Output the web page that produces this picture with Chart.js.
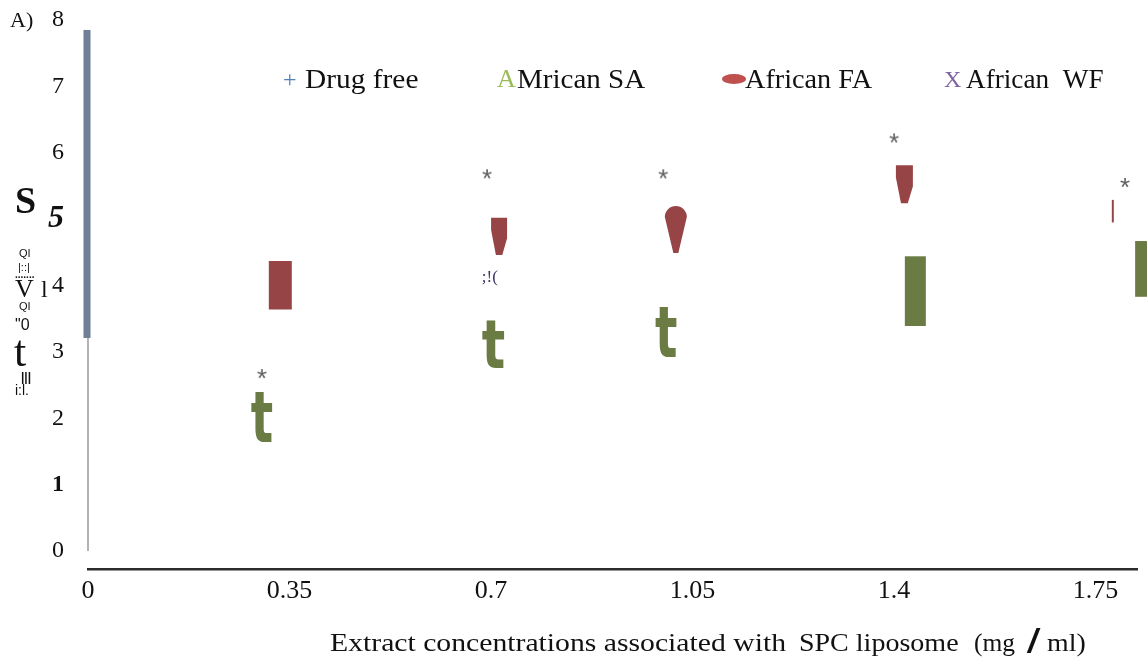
<!DOCTYPE html>
<html><head><meta charset="utf-8">
<script src="https://cdn.jsdelivr.net/npm/chart.js@4/dist/chart.umd.min.js"></script>
<style>html,body{margin:0;padding:0;background:#fff}#wrap{width:1147px;height:665px;position:relative}</style>
</head><body><div id="wrap"><canvas id="c" width="1147" height="665"></canvas></div>
<script>
// ---- data ----
const xTickValues = [0, 0.35, 0.7, 1.05, 1.4, 1.75];
const xTickLabels = ['0', '0.35', '0.7', '1.05', '1.4', '1.75'];
const yTickValues = [0, 1, 2, 3, 4, 5, 6, 7, 8];
const yTickLabels = ['0', '1', '2', '3', '4', '5', '6', '7', '8'];
const seriesNames = ['Drug free', 'Mrican SA', 'African FA', 'African  WF'];
// African FA (red marks): x position, low and high value
const faX = [0.334, 0.714, 1.021, 1.418, 1.780];
const faLow = [3.64, 4.46, 4.49, 5.24, 4.95];
const faHigh = [4.37, 5.02, 5.18, 5.81, 5.29];
// African SA (green marks)
const saX = [0.302, 0.704, 1.004, 1.437, 1.837];
const saLow = [1.64, 2.76, 2.92, 3.39, 3.83];
const saHigh = [2.39, 3.48, 3.67, 4.44, 4.67];
// significance asterisks
const sigX = [0.302, 0.693, 0.999, 1.400, 1.801];
const sigY = [2.68, 5.69, 5.69, 6.23, 5.56];
// African WF label
const wfX = [0.698];
const wfY = [4.14];

// ---- styles ----
const RED = '#974446', GREEN = '#6B7B44', STAR = '#5c5c5c';
const SERIF = '"Liberation Serif","Times New Roman",serif';
const SANS = '"Liberation Sans",Arial,sans-serif';
const faShape = ['rect', 'taper', 'drop', 'taper', 'line'];
const faWidth = [23, 16, 22, 17, 2];
const saShape = ['t', 't', 't', 'rect', 'rect'];
const saWidth = [22, 23, 22, 21, 21];

// asterisk marker image for the significance points
const starImg = document.createElement('canvas');
starImg.width = 16; starImg.height = 16;
(function () {
  const c = starImg.getContext('2d');
  c.fillStyle = STAR; c.font = '26px ' + SANS; c.textAlign = 'center'; c.textBaseline = 'alphabetic';
  c.fillText('*', 8, 22);
})();

function drawFit(ctx, text, x0, x1, baseline, font, color) {
  ctx.save();
  ctx.font = font; ctx.fillStyle = color; ctx.textAlign = 'left'; ctx.textBaseline = 'alphabetic';
  const m = ctx.measureText(text);
  const w = m.actualBoundingBoxLeft + m.actualBoundingBoxRight;
  ctx.translate(x0, baseline);
  ctx.scale((x1 - x0) / w, 1);
  ctx.fillText(text, m.actualBoundingBoxLeft, 0);
  ctx.restore();
}
function drawText(ctx, text, x, baseline, font, color, align) {
  ctx.save();
  ctx.font = font; ctx.fillStyle = color; ctx.textAlign = align || 'left'; ctx.textBaseline = 'alphabetic';
  ctx.fillText(text, x, baseline);
  ctx.restore();
}

const shapePlugin = {
  id: 'shapes',
  afterDatasetsDraw(chart) {
    const ctx = chart.ctx;
    chart.getDatasetMeta(0).data.forEach((el, i) => {
      const p = el.getProps(['x', 'y', 'base'], true);
      const top = Math.min(p.y, p.base), bot = Math.max(p.y, p.base), h = bot - top;
      const w = faWidth[i], L = p.x - w / 2, R = p.x + w / 2, x = p.x;
      ctx.save(); ctx.fillStyle = RED; ctx.beginPath();
      if (faShape[i] === 'rect') {
        ctx.rect(L, top, w, h);
      } else if (faShape[i] === 'taper') {
        ctx.moveTo(L, top); ctx.lineTo(R, top); ctx.lineTo(R, top + h * 0.55);
        ctx.lineTo(x + w * 0.2, bot); ctx.lineTo(x - w * 0.2, bot); ctx.lineTo(L, top + h * 0.32);
        ctx.closePath();
      } else if (faShape[i] === 'drop') {
        const r = w / 2;
        ctx.arc(x, top + r * 0.9, r, Math.PI, 0);
        ctx.lineTo(x + 2.5, bot); ctx.lineTo(x - 2.5, bot); ctx.closePath();
      } else {
        ctx.rect(x - 1, top, 2, h);
      }
      ctx.fill(); ctx.restore();
    });
    chart.getDatasetMeta(1).data.forEach((el, i) => {
      const p = el.getProps(['x', 'y', 'base'], true);
      const top = Math.min(p.y, p.base), bot = Math.max(p.y, p.base), h = bot - top;
      const w = saWidth[i];
      ctx.save(); ctx.fillStyle = GREEN;
      if (saShape[i] === 't') {
        ctx.font = 'bold 64px "DejaVu Sans",Verdana,sans-serif';
        ctx.textAlign = 'left'; ctx.textBaseline = 'alphabetic';
        const m = ctx.measureText('t');
        const iw = m.actualBoundingBoxLeft + m.actualBoundingBoxRight;
        const ih = m.actualBoundingBoxAscent + m.actualBoundingBoxDescent;
        ctx.translate(p.x - w / 2, top);
        ctx.scale(w / iw, h / ih);
        ctx.fillText('t', m.actualBoundingBoxLeft, m.actualBoundingBoxAscent);
      } else {
        ctx.fillRect(p.x - w / 2, top, w, h);
      }
      ctx.restore();
    });
  }
};

const overlayPlugin = {
  id: 'overlay',
  beforeDatasetsDraw(chart) {
    const ctx = chart.ctx, ys = chart.scales.y, xs = chart.scales.x;
    const x0 = xs.getPixelForValue(0);
    ctx.save();
    ctx.strokeStyle = '#8a8a8a'; ctx.lineWidth = 1.3;
    ctx.beginPath(); ctx.moveTo(x0, ys.getPixelForValue(0)); ctx.lineTo(x0, ys.getPixelForValue(3.22)); ctx.stroke();
    ctx.fillStyle = '#6F7F95';
    const t = ys.getPixelForValue(7.85), b = ys.getPixelForValue(3.21);
    ctx.fillRect(x0 - 4.5, t, 7, b - t);
    ctx.restore();
  },
  afterDraw(chart) {
    const ctx = chart.ctx, xs = chart.scales.x, ys = chart.scales.y;
    // panel letter
    drawText(ctx, 'A)', 10, 27, '22px ' + SERIF, '#111');
    // legend
    drawText(ctx, '+', 283, 87, '24px ' + SERIF, '#4F81BD');
    drawFit(ctx, seriesNames[0], 305, 418, 88, '28px ' + SERIF, '#111');
    drawText(ctx, 'A', 497, 87, '26px ' + SERIF, '#9BBB59');
    drawFit(ctx, seriesNames[1], 517, 646, 88, '28px ' + SERIF, '#111');
    ctx.save(); ctx.fillStyle = '#C0504D'; ctx.beginPath(); ctx.ellipse(734, 79, 12, 5, 0, 0, Math.PI * 2); ctx.fill(); ctx.restore();
    drawFit(ctx, seriesNames[2], 745, 873, 88, '28px ' + SERIF, '#111');
    drawText(ctx, 'X', 944, 87, '24px ' + SERIF, '#8064A2');
    drawFit(ctx, seriesNames[3], 966, 1103, 88, '28px ' + SERIF, '#111');
    // WF label
    drawText(ctx, ';!(', xs.getPixelForValue(wfX[0]), ys.getPixelForValue(wfY[0]) + 6, '17px ' + SERIF, '#3D3463', 'center');
    // garbled vertical axis title
    drawText(ctx, 'S', 15, 213, 'bold 38px ' + SERIF, '#111');
    drawText(ctx, 'QI', 19, 257, '11px ' + SANS, '#111');
    drawText(ctx, '|::|', 18, 271, '11px ' + SANS, '#111');
    drawText(ctx, '.......', 15, 278, 'bold 10px ' + SANS, '#111');
    drawText(ctx, 'V', 15, 297, '26px ' + SERIF, '#111');
    drawText(ctx, 'l', 41, 297, '24px ' + SERIF, '#111');
    drawText(ctx, 'QI', 19, 310, '11px ' + SANS, '#111');
    drawText(ctx, '"0', 15, 330, '16px ' + SANS, '#111');
    drawText(ctx, 't', 14, 366, '44px ' + SERIF, '#111');
    drawText(ctx, '|||', 21, 381, 'bold 12px ' + SANS, '#111');
    drawText(ctx, 'i:l.', 15, 395, '14px ' + SANS, '#111');
    // x axis title
    const f = '26px ' + SERIF;
    drawFit(ctx, 'Extract concentrations associated with', 330, 786, 651, f, '#111');
    drawFit(ctx, 'SPC liposome', 800, 958, 651, f, '#111');
    drawFit(ctx, '(mg', 975, 1015, 651, f, '#111');
    drawText(ctx, '/', 1028, 652, 'italic bold 34px ' + SANS, '#111');
    drawFit(ctx, 'ml)', 1047, 1085, 651, f, '#111');
  }
};

new Chart(document.getElementById('c'), {
  type: 'bar',
  data: {
    datasets: [
      { type: 'bar', label: seriesNames[2], data: faX.map((x, i) => ({ x, y: [faLow[i], faHigh[i]] })),
        backgroundColor: 'rgba(0,0,0,0)', borderWidth: 0, barThickness: 23, grouped: false, clip: false },
      { type: 'bar', label: seriesNames[1], data: saX.map((x, i) => ({ x, y: [saLow[i], saHigh[i]] })),
        backgroundColor: 'rgba(0,0,0,0)', borderWidth: 0, barThickness: 21, grouped: false, clip: false },
      { type: 'scatter', label: '*', data: sigX.map((x, i) => ({ x, y: sigY[i] })),
        pointStyle: starImg, pointRadius: 8, clip: false },
      { type: 'scatter', label: seriesNames[3], data: wfX.map((x, i) => ({ x, y: wfY[i] })), pointRadius: 0 }
    ]
  },
  options: {
    responsive: false, animation: false, devicePixelRatio: 1,
    layout: { padding: { left: 0, right: 10, top: 20, bottom: 0 } },
    plugins: { legend: { display: false }, tooltip: { enabled: false } },
    scales: {
      x: {
        type: 'linear', min: 0, max: 1.822, offset: false,
        grid: { display: false, drawTicks: false, offset: false },
        border: { display: true, color: '#2b2b2b', width: 2.5 },
        afterBuildTicks: s => { s.ticks = xTickValues.map(v => ({ value: v })); },
        afterFit: s => { s.height = 96; s.paddingLeft = 0; s.paddingRight = 0; },
        ticks: { autoSkip: false, maxRotation: 0, padding: 7, color: '#111',
          font: { family: SERIF, size: 26 },
          callback: v => xTickLabels[xTickValues.indexOf(v)] }
      },
      y: {
        type: 'linear', min: -0.271, max: 8,
        grid: { display: false, drawTicks: false },
        border: { display: false },
        afterBuildTicks: s => { s.ticks = yTickValues.map(v => ({ value: v })); },
        afterFit: s => { s.width = 88; s.paddingTop = 0; s.paddingBottom = 0; },
        ticks: { padding: 24, color: '#111',
          font: c => c.tick && c.tick.value === 5 ? { family: SERIF, size: 32, style: 'italic', weight: 'bold' }
                   : (c.tick && c.tick.value === 1 ? { family: SERIF, size: 24, weight: 'bold' } : { family: SERIF, size: 24 }),
          callback: v => yTickLabels[yTickValues.indexOf(v)] }
      }
    }
  },
  plugins: [shapePlugin, overlayPlugin]
});
</script>
</body></html>
